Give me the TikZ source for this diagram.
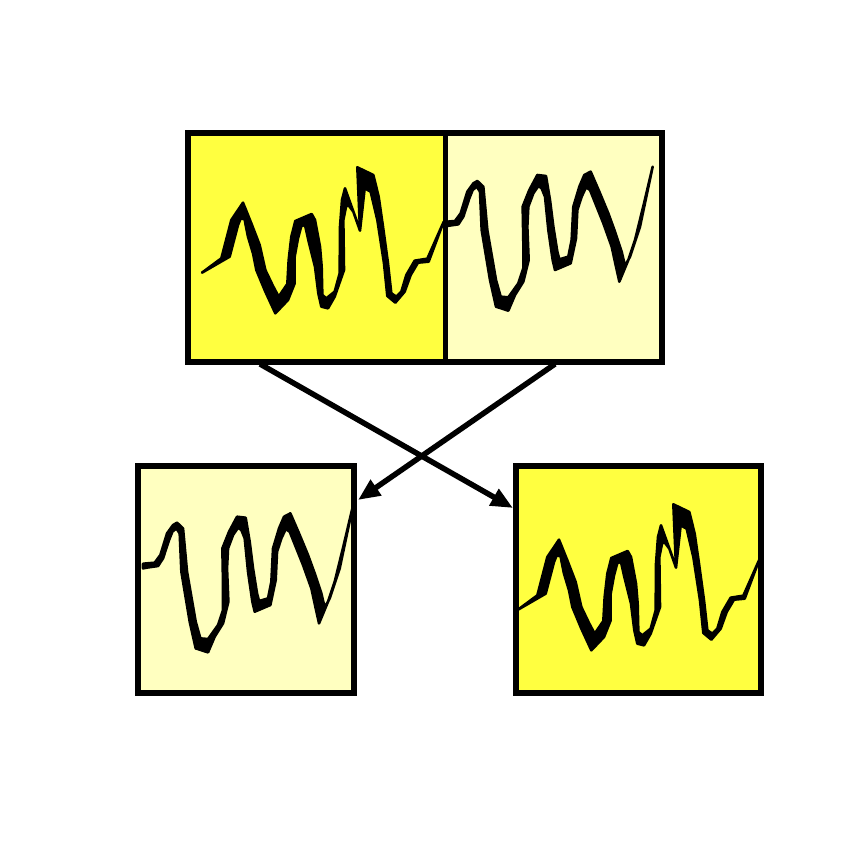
\documentclass[tikz,border=0pt]{standalone}
\usetikzlibrary{arrows.meta}
\definecolor{brightY}{RGB}{255,255,64}
\definecolor{paleY}{RGB}{255,255,192}
\tikzset{
  panel/.style={draw=black, line width=5.5pt, inner sep=0pt, outer sep=0pt, rectangle},
  arr/.style={line width=5.5pt, -{Triangle[length=22pt,width=18pt]}},
  wave/.style={fill=black, draw=black, line width=2.6pt, line join=round},
}
\newcommand\drawWaveA[2]{%
  \filldraw[wave,shift={(#1,#2)},scale=1/3]
  (42,338) -- (100,295) -- (130,180) -- (165,128) -- (190,190) -- (215,255) -- (232,330) -- (255,378) -- (272,410) -- (298,372) -- (302,300) -- (310,230) -- (322,183) -- (371,162) -- (381,180) -- (396,260) -- (401,320) -- (403,405) -- (415,415) -- (440,395) -- (455,340) -- (456,200) -- (462,120) -- (471,85) -- (516,210) -- (508,22) -- (556,45) -- (572,110) -- (585,200) -- (600,310) -- (610,400) -- (625,410) -- (640,395) -- (655,345) -- (680,302) -- (718,296) -- (765,190)
  -- (722,305) -- (690,308) -- (668,345) -- (650,395) -- (622,428) -- (598,408) -- (588,310) -- (568,180) -- (548,95) -- (530,85) -- (516,212) -- (496,155) -- (481,135) -- (474,140) -- (466,180) -- (468,330) -- (440,410) -- (420,445) -- (400,440) -- (391,400) -- (381,320) -- (361,240) -- (351,195) -- (340,198) -- (330,235) -- (320,290) -- (320,370) -- (300,420) -- (262,460) -- (232,395) -- (205,330) -- (195,280) -- (180,230) -- (172,190) -- (170,178) -- (158,175) -- (150,195) -- (125,290) -- cycle;}
\newcommand\drawWaveB[2]{%
  \filldraw[wave,shift={(#1,#2)},scale=1/3]
  (10,186) -- (45,183) -- (62,160) -- (82,95) -- (100,70) -- (112,63) -- (130,80) -- (142,210) -- (168,360) -- (182,410) -- (205,412) -- (235,370) -- (250,325) -- (250,250) -- (248,140) -- (268,90) -- (292,45) -- (318,48) -- (330,120) -- (340,200) -- (352,275) -- (358,298) -- (385,290) -- (395,240) -- (400,140) -- (418,80) -- (433,45) -- (452,35) -- (478,95) -- (505,160) -- (525,215) -- (545,275) -- (555,318) -- (570,290) -- (600,200) -- (638,20)
  -- (612,130) -- (585,240) -- (565,300) -- (538,365) -- (528,320) -- (515,260) -- (490,190) -- (470,140) -- (450,90) -- (438,82) -- (425,110) -- (412,150) -- (408,235) -- (392,310) -- (345,330) -- (338,300) -- (325,210) -- (315,110) -- (305,85) -- (295,78) -- (280,100) -- (265,140) -- (262,200) -- (266,300) -- (250,365) -- (225,405) -- (205,452) -- (168,440) -- (150,360) -- (125,210) -- (120,95) -- (110,80) -- (98,90) -- (88,115) -- (70,170) -- (55,193) -- (20,198) -- (10,200) -- cycle;}
\begin{document}
\begin{tikzpicture}[x=1pt,y=-1pt]
  \fill[white] (0,0) rectangle (850,850);
  \useasboundingbox (0,0) rectangle (850,850);
  % panels
  \node[panel, fill=brightY, minimum width=257.7pt, minimum height=229pt] (tl) at (316.85,247.5) {};
  \node[panel, fill=paleY, minimum width=216.3pt, minimum height=229pt] (tr) at (553.85,247.5) {};
  \node[panel, fill=paleY, minimum width=216pt, minimum height=227pt] (bl) at (246,579.5) {};
  \node[panel, fill=brightY, minimum width=245pt, minimum height=227pt] (br) at (638.5,579.5) {};
  % waveforms
  \drawWaveA{188}{160}
  \drawWaveB{440}{160}
  \drawWaveB{139.7}{501.7}
  \drawWaveA{504}{497}
  % redraw borders on top
  \draw[line width=5.5pt] (tl.north west) rectangle (tl.south east);
  \draw[line width=5.5pt] (tr.north west) rectangle (tr.south east);
  \draw[line width=5.5pt] (bl.north west) rectangle (bl.south east);
  \draw[line width=5.5pt] (br.north west) rectangle (br.south east);
  % connectors
  \coordinate (s1) at (260,364);
  \coordinate (e1) at (513,508);
  \coordinate (s2) at (555,364);
  \coordinate (e2) at (358,500);
  \draw[arr] (s1) -- (e1);
  \draw[arr] (s2) -- (e2);
\end{tikzpicture}
\end{document}
